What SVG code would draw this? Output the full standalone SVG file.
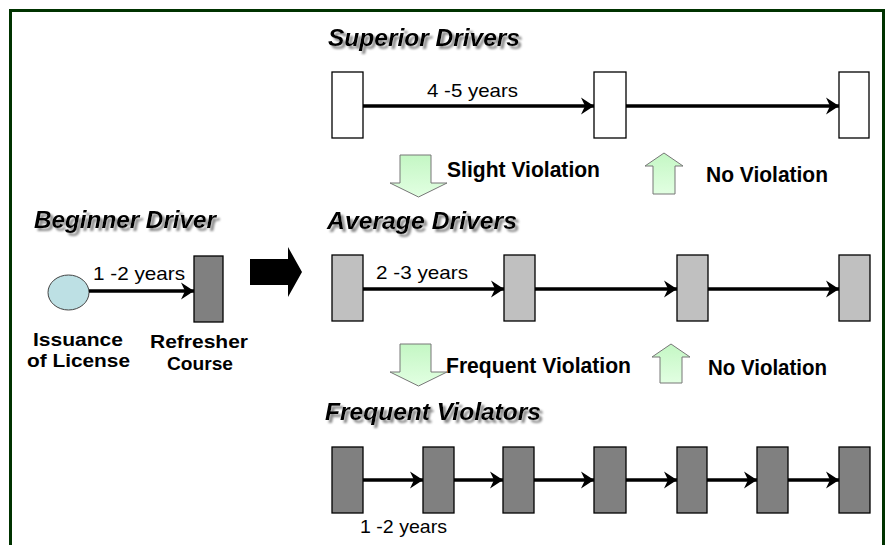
<svg xmlns="http://www.w3.org/2000/svg" width="891" height="545" viewBox="0 0 891 545">
<style>
.title{font-family:"Liberation Sans",Arial,sans-serif;font-weight:bold;font-style:italic;font-size:23px;fill:#000;filter:url(#shadow)}
.yr{font-family:"Liberation Sans",Arial,sans-serif;font-size:19px;fill:#000}
.lbl{font-family:"Liberation Sans",Arial,sans-serif;font-weight:bold;font-size:18.5px;fill:#000}
.vio{font-family:"Liberation Sans",Arial,sans-serif;font-weight:bold;font-size:21.5px;fill:#000}
.sup{fill:#fff;stroke:#000;stroke-width:1.3}
.avg{fill:#c0c0c0;stroke:#000;stroke-width:1.3}
.frq{fill:#808080;stroke:#000;stroke-width:1.3}
.gr{fill:url(#grn);stroke:#777;stroke-width:1}
.con{stroke:#000;stroke-width:3.5;fill:none;marker-end:url(#ah)}
</style>
<defs>
<filter id="shadow" x="-10%" y="-40%" width="125%" height="190%">
<feGaussianBlur in="SourceAlpha" stdDeviation="1.1" result="b"/>
<feOffset in="b" dx="3" dy="3" result="o"/>
<feFlood flood-color="#8c8c8c"/>
<feComposite in2="o" operator="in" result="s"/>
<feMerge><feMergeNode in="s"/><feMergeNode in="SourceGraphic"/></feMerge>
</filter>
<linearGradient id="grn" x1="0" y1="0" x2="0" y2="1">
<stop offset="0" stop-color="#c4f7c4"/>
<stop offset="1" stop-color="#e2ffe2"/>
</linearGradient>
<marker id="ah" markerUnits="userSpaceOnUse" markerWidth="16" markerHeight="20" viewBox="-14 -10 16 20" refX="0" refY="0" orient="auto">
<path d="M0,0 L-13,-8.5 L-9,0 L-13,8.5 Z" fill="#000"/>
</marker>
</defs>
<rect x="10.5" y="10.5" width="873" height="560" fill="none" stroke="#003300" stroke-width="3"/>

<g id="titles">
<text class="title" x="328" y="46" textLength="192" lengthAdjust="spacingAndGlyphs">Superior Drivers</text>
<text class="title" x="34" y="228" textLength="182" lengthAdjust="spacingAndGlyphs">Beginner Driver</text>
<text class="title" x="327" y="229" textLength="190" lengthAdjust="spacingAndGlyphs">Average Drivers</text>
<text class="title" x="325" y="420" textLength="216" lengthAdjust="spacingAndGlyphs">Frequent Violators</text>
</g>

<g id="beginner">
<ellipse cx="68.5" cy="292.5" rx="20.5" ry="17.5" fill="#bde0e4" stroke="#444" stroke-width="1"/>
<rect class="frq" x="194" y="256" width="29" height="66"/>
<text class="yr" x="93" y="279.5" textLength="92" lengthAdjust="spacingAndGlyphs">1 -2 years</text>
<text class="lbl" x="33" y="345.5" textLength="90" lengthAdjust="spacingAndGlyphs">Issuance</text>
<text class="lbl" x="27" y="367" textLength="103" lengthAdjust="spacingAndGlyphs">of License</text>
<text class="lbl" x="150" y="348" textLength="98" lengthAdjust="spacingAndGlyphs">Refresher</text>
<text class="lbl" x="167" y="370" textLength="66" lengthAdjust="spacingAndGlyphs">Course</text>
</g>

<g id="big-arrow">
<path d="M250,259 L288,259 L288,247 L302,272 L288,297 L288,285 L250,285 Z" fill="#000"/>
</g>

<g id="superior">
<rect class="sup" x="332" y="72" width="31" height="66"/>
<rect class="sup" x="594" y="72" width="32" height="66"/>
<rect class="sup" x="839" y="72" width="30" height="66"/>
<text class="yr" x="427" y="96.5" textLength="91" lengthAdjust="spacingAndGlyphs">4 -5 years</text>
</g>

<g id="average">
<rect class="avg" x="332" y="255" width="31" height="66"/>
<rect class="avg" x="504" y="255" width="31" height="66"/>
<rect class="avg" x="677" y="255" width="31" height="66"/>
<rect class="avg" x="839" y="255" width="31" height="66"/>
<text class="yr" x="376" y="279" textLength="92" lengthAdjust="spacingAndGlyphs">2 -3 years</text>
</g>

<g id="frequent">
<rect class="frq" x="332" y="447" width="31" height="66"/>
<rect class="frq" x="423" y="447" width="31" height="66"/>
<rect class="frq" x="503" y="447" width="31" height="66"/>
<rect class="frq" x="594" y="447" width="32" height="66"/>
<rect class="frq" x="677" y="447" width="30" height="66"/>
<rect class="frq" x="757" y="447" width="31" height="66"/>
<rect class="frq" x="839" y="447" width="31" height="66"/>
<text class="yr" x="360" y="533" textLength="87" lengthAdjust="spacingAndGlyphs">1 -2 years</text>
</g>

<g id="transitions">
<path class="gr" d="M400,155 L431,155 L431,183 L447,183 L418.5,197 L390,183 L400,183 Z"/>
<text class="vio" x="447" y="177" textLength="153" lengthAdjust="spacingAndGlyphs">Slight Violation</text>
<path class="gr" d="M653,194 L675,194 L675,166 L683,166 L664,153 L645,166 L653,166 Z"/>
<text class="vio" x="706" y="182" textLength="122" lengthAdjust="spacingAndGlyphs">No Violation</text>
<path class="gr" d="M400,344 L431,344 L431,372 L447,372 L418.5,386 L390,372 L400,372 Z"/>
<text class="vio" x="446" y="373" textLength="185" lengthAdjust="spacingAndGlyphs">Frequent Violation</text>
<path class="gr" d="M660,383 L682,383 L682,357 L690,357 L671,344 L652,357 L660,357 Z"/>
<text class="vio" x="708" y="375" textLength="119" lengthAdjust="spacingAndGlyphs">No Violation</text>
</g>

<g id="connectors">
<line class="con" x1="89" y1="291" x2="194" y2="291"/>
<line class="con" x1="363" y1="106" x2="594" y2="106"/>
<line class="con" x1="626" y1="106" x2="839" y2="106"/>
<line class="con" x1="363" y1="289" x2="504" y2="289"/>
<line class="con" x1="535" y1="289" x2="677" y2="289"/>
<line class="con" x1="708" y1="289" x2="839" y2="289"/>
<line class="con" x1="363" y1="480" x2="423" y2="480"/>
<line class="con" x1="454" y1="480" x2="503" y2="480"/>
<line class="con" x1="534" y1="480" x2="594" y2="480"/>
<line class="con" x1="626" y1="480" x2="677" y2="480"/>
<line class="con" x1="707" y1="480" x2="757" y2="480"/>
<line class="con" x1="788" y1="480" x2="839" y2="480"/>
</g>
</svg>
